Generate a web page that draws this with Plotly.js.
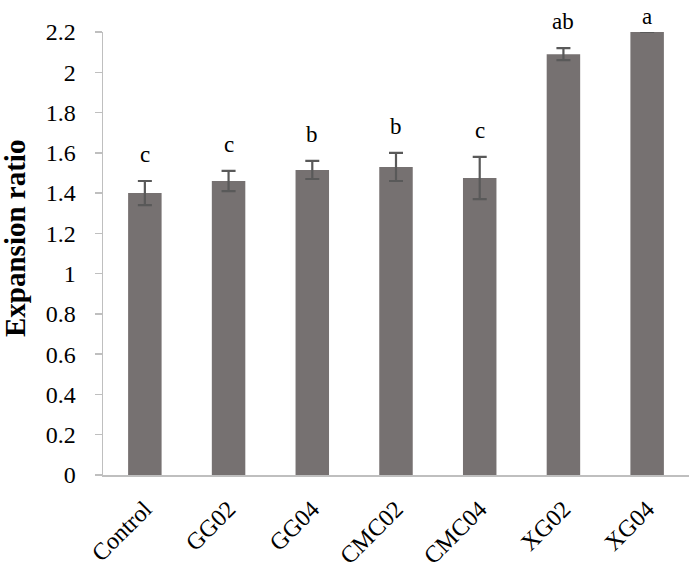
<!DOCTYPE html>
<html>
<head>
<meta charset="utf-8">
<script src="https://cdn.plot.ly/plotly-3.0.1.min.js"></script>
<style>html,body{margin:0;padding:0;background:#fff;}#chart{width:691px;height:576px;}</style>
</head>
<body>
<div id="chart"></div>
<script>
const categories = ["Control", "GG02", "GG04", "CMC02", "CMC04", "XG02", "XG04"];
const expansionRatio = [1.40, 1.46, 1.515, 1.53, 1.475, 2.09, 2.205];
const errorValues = [0.06, 0.05, 0.045, 0.07, 0.105, 0.03, 0.004];
const letters = ["c", "c", "b", "b", "c", "ab", "a"];
const yTicks = [0, 0.2, 0.4, 0.6, 0.8, 1, 1.2, 1.4, 1.6, 1.8, 2, 2.2];
const yTickText = ["0", "0.2", "0.4", "0.6", "0.8", "1", "1.2", "1.4", "1.6", "1.8", "2", "2.2"];
const yRange = [0, 2.2];

const serif = "Liberation Serif, Times New Roman, serif";
// keep the letters inside the canvas: highest paper position for a letter anchor
const maxLetterPaperY = 0.975;

const trace = {
  type: "bar",
  x: categories,
  y: expansionRatio,
  marker: {color: "#767171"},
  cliponaxis: false,
  error_y: {type: "data", array: errorValues, visible: true, color: "#595959", thickness: 2.2, width: 7}
};

const annotations = categories.map((c, i) => ({
  x: c,
  xref: "x",
  yref: "paper",
  y: Math.min((expansionRatio[i] + errorValues[i] - yRange[0]) / (yRange[1] - yRange[0]), maxLetterPaperY),
  yanchor: "bottom",
  yshift: 12,
  text: letters[i],
  showarrow: false,
  font: {family: serif, size: 23, color: "#000"}
}));

annotations.push({
  xref: "paper", yref: "paper",
  x: -0.15, y: 0.533,
  xanchor: "center", yanchor: "middle",
  textangle: -90,
  text: "<b>Expansion ratio</b>",
  showarrow: false,
  font: {family: serif, size: 29, color: "#000"}
});

const layout = {
  width: 691, height: 576,
  margin: {l: 103, r: 2, t: 32, b: 101},
  paper_bgcolor: "#fff", plot_bgcolor: "#fff",
  bargap: 0.6,
  showlegend: false,
  xaxis: {
    type: "category",
    tickangle: -45,
    showline: true, linecolor: "#bfbfbf", linewidth: 1.5,
    ticks: "outside", ticklen: 9, tickcolor: "rgba(0,0,0,0)",
    showgrid: false,
    tickfont: {family: serif, size: 24, color: "#000"},
    automargin: false
  },
  yaxis: {
    range: yRange,
    tickvals: yTicks, ticktext: yTickText,
    showline: true, linecolor: "#bfbfbf", linewidth: 1.5,
    ticks: "outside", ticklen: 7, tickcolor: "#bfbfbf", tickwidth: 1.5,
    ticklabelstandoff: 14,
    showgrid: false, zeroline: false,
    tickfont: {family: serif, size: 24, color: "#000"},
    automargin: false
  },
  annotations: annotations
};

Plotly.newPlot("chart", [trace], layout, {displayModeBar: false, staticPlot: true});
</script>
</body>
</html>
